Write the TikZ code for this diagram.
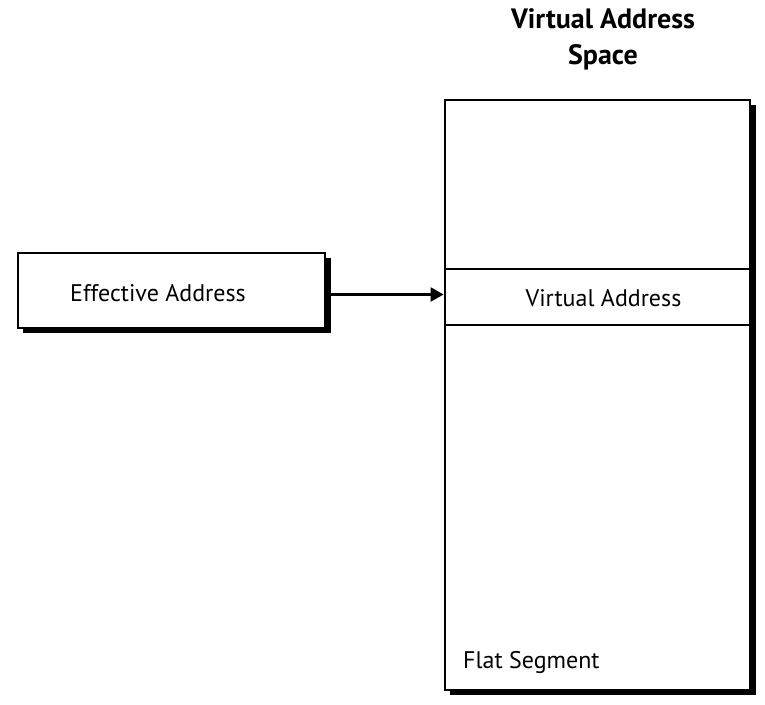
\documentclass[tikz,border=0pt]{standalone}
\usepackage{fontspec}
\setmainfont{PT Sans}
\usetikzlibrary{arrows.meta}
\begin{document}
\begin{tikzpicture}[x=1pt,y=1pt,
  boxstyle/.style={draw=black,line width=2.8pt,fill=white,rectangle,inner sep=0pt},
  shadowstyle/.style={fill=black,draw=none},
  lbl/.style={font=\fontsize{24}{28}\selectfont,inner sep=0pt},
  ttl/.style={font=\bfseries\fontsize{28}{36}\selectfont,inner sep=0pt,align=center},
  arr/.style={line width=2.3pt,-{Triangle[length=13pt,width=14pt]}}]
\useasboundingbox (0,0) rectangle (765,704);
% shadows
\fill[shadowstyle] (23,371) rectangle (330.5,446);
\fill[shadowstyle] (450,9) rectangle (755.5,599);
% boxes
\node[boxstyle,minimum width=307pt,minimum height=75pt] (eff) at (171.5,413.5) {};
\node[boxstyle,minimum width=305pt,minimum height=590pt] (vas) at (597.5,309) {};
\coordinate (l1w) at (445,435);
\coordinate (l1e) at (750,435);
\coordinate (l2w) at (445,379);
\coordinate (l2e) at (750,379);
\draw[line width=2.3pt] (l1w) -- (l1e);
\draw[line width=2.3pt] (l2w) -- (l2e);
\node[lbl,anchor=west] (efftxt) at (70,411) {Effective Address};
\node[lbl] (vatxt) at (603.5,406) {Virtual Address};
\node[lbl,anchor=west] (flat) at (463,42) {Flat Segment};
\node[ttl] (title) at (603,665) {Virtual Address\\Space};
\draw[arr] ([yshift=-4pt]eff.east) -- ([yshift=-4pt]eff.east -| vas.west);
\end{tikzpicture}
\end{document}
